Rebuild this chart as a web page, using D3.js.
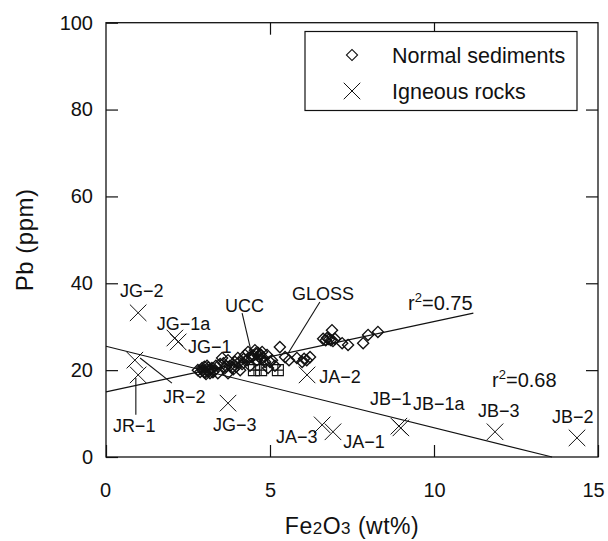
<!DOCTYPE html>
<html><head><meta charset="utf-8">
<script src="https://cdn.jsdelivr.net/npm/d3@7"></script>
<style>body{margin:0;background:#fff}text{font-family:"Liberation Sans",Arial,sans-serif;fill:#111}</style>
</head><body><svg id="c" width="608" height="541"></svg>
<script>
// ---- data ----
const sedFe = [2.80,2.93,2.99,3.08,3.11,3.17,3.23,3.29,3.05,3.35,2.87,3.41,
  3.54,3.48,3.63,3.72,3.72,3.84,3.93,4.02,4.09,4.15,4.24,4.30,4.33,4.39,4.45,4.54,4.60,4.70,4.76,4.79,4.85,4.91,4.94,5.00,5.06,5.15,5.30,5.46,
  5.58,5.82,5.98,6.22,6.62,6.74,6.86,6.98,6.89,7.20,7.38,7.84,7.99,8.29,
  2.95,3.02,3.14,3.20,3.26,3.00,3.12,3.78,3.88,3.97,4.05,4.20,4.36,4.48,4.57,4.66,4.72,4.63,6.70,6.80,6.92,6.04,6.12,3.58,3.66];
const sedPb = [20.0,20.5,19.6,21.0,20.0,19.3,20.5,19.8,19.1,21.0,19.6,19.3,
  22.8,21.4,20.5,22.3,19.3,20.5,21.9,22.8,20.0,21.4,23.5,22.3,24.2,21.0,23.0,24.6,22.3,23.7,24.2,22.8,21.9,23.5,20.5,21.9,22.3,21.0,25.3,23.0,
  22.3,22.8,21.9,23.0,27.2,27.4,26.9,27.2,29.2,26.2,25.8,26.2,28.1,28.8,
  19.9,19.4,19.7,20.2,19.5,20.8,20.6,21.0,20.2,20.8,21.8,22.6,22.9,23.4,23.9,23.2,22.7,24.0,26.9,27.1,26.7,22.6,22.3,21.6,20.9];
const refFe = [4.51,4.73,5.24];
const refPb = [20.0,20.0,20.0];
const igName = ["JG−2","JG−1a","JG−1","JR−2","JR−1","JG−3","JA−3","JA−1","JB−1","JB−1a","JB−3","JB−2","JA−2"];
const igFe = [0.98,2.10,2.20,0.88,0.98,3.72,6.59,6.92,8.93,8.99,11.86,14.36,6.13];
const igPb = [33.2,27.4,26.5,22.3,18.9,12.4,7.4,5.8,7.1,6.7,5.8,4.4,18.9];
// regression lines
const fitIntercept = [15.0, 25.5];
const fitSlope = [1.62, -1.875];
const fitXEnd = [11.2, 13.6];
const fitR2 = ["0.75", "0.68"];
// text annotations (data coords)
const labText = ["JG−2","JG−1a","JG−1","UCC","GLOSS","JA−2","JR−2","JR−1","JG−3","JA−3","JA−1","JB−1","JB−1a","JB−3","JB−2"];
const labFe = [0.43,1.55,2.50,3.63,5.67,6.50,1.74,0.21,3.26,5.18,7.23,8.05,9.36,11.34,13.6];
const labPb = [36.8,29.2,23.9,33.4,36.1,17.0,12.4,5.8,6.0,3.2,2.1,12.0,10.8,9.2,7.8];
const r2Fe = [9.21, 11.77];
const r2Pb = [33.8, 16.1];
// leader lines
const leadFe1 = [4.15,6.52,1.04,0.91];
const leadPb1 = [33.1,35.7,22.8,18.2];
const leadFe2 = [4.45,5.52,2.01,0.91];
const leadPb2 = [23.5,23.5,17.0,9.7];
const xTicks = [0,5,10,15];
const yTicks = [0,20,40,60,80,100];
const legendLabels = ["Normal sediments","Igneous rocks"];

// ---- chart ----
const svg = d3.select("#c");
const L=106,R=598,T=22.7,B=457;
const x = d3.scaleLinear().domain([0,15]).range([L,R]);
const y = d3.scaleLinear().domain([0,100]).range([B,T]);
const ink = "#111";

const gx = svg.append("g").attr("transform",`translate(0,${B})`)
  .call(d3.axisBottom(x).tickValues(xTicks).tickSizeInner(-12).tickSizeOuter(0).tickPadding(26).tickFormat(d3.format("d")));
const gy = svg.append("g").attr("transform",`translate(${L},0)`)
  .call(d3.axisLeft(y).tickValues(yTicks).tickSizeInner(-12).tickSizeOuter(0).tickPadding(13));
const gt = svg.append("g").attr("transform",`translate(0,${T})`)
  .call(d3.axisTop(x).tickValues([5,10]).tickSizeInner(-12).tickSizeOuter(0).tickFormat(""));
const gr = svg.append("g").attr("transform",`translate(${R},0)`)
  .call(d3.axisRight(y).tickValues([20,40,60,80]).tickSizeInner(-12).tickSizeOuter(0).tickFormat(""));
[gx,gy,gt,gr].forEach(g=>{
  g.select(".domain").remove();
  g.selectAll("line").attr("stroke",ink).attr("stroke-width",1.2);
  g.selectAll("text").attr("font-size",20).attr("fill",ink).attr("font-family","Liberation Sans, Arial, sans-serif");
});
gx.selectAll(".tick text").attr("dx",d=>d===15?-5:(d===0?-1:0));
svg.append("rect").attr("x",L).attr("y",T).attr("width",R-L).attr("height",B-T)
  .attr("fill","none").attr("stroke",ink).attr("stroke-width",1.3);

// axis titles
const xt = svg.append("text").attr("x",(L+R)/2).attr("y",534).attr("text-anchor","middle").attr("font-size",23).attr("letter-spacing",0.5);
xt.append("tspan").text("Fe");
xt.append("tspan").attr("font-size",17).text("2");
xt.append("tspan").text("O");
xt.append("tspan").attr("font-size",17).text("3");
xt.append("tspan").text(" (wt%)");
svg.append("text").attr("transform",`translate(33,${(T+B)/2}) rotate(-90)`).attr("text-anchor","middle")
  .attr("font-size",24).attr("letter-spacing",0.5).text("Pb (ppm)");

const plot = svg.append("g");
// regression lines
fitIntercept.forEach((b,i)=>{
  plot.append("line").attr("x1",x(0)).attr("y1",y(b))
    .attr("x2",x(fitXEnd[i])).attr("y2",y(b+fitSlope[i]*fitXEnd[i]))
    .attr("stroke",ink).attr("stroke-width",1.2);
});
// leaders
leadFe1.forEach((v,i)=>{
  plot.append("line").attr("x1",x(v)).attr("y1",y(leadPb1[i])).attr("x2",x(leadFe2[i])).attr("y2",y(leadPb2[i]))
    .attr("stroke",ink).attr("stroke-width",1.1);
});
// sediments diamonds
const diamond = d3.symbol().type(d3.symbolSquare).size(62);
plot.selectAll("path.sed").data(sedFe).join("path").attr("class","sed")
  .attr("d",diamond).attr("transform",(d,i)=>`translate(${x(d)},${y(sedPb[i])}) rotate(45)`)
  .attr("fill","none").attr("stroke",ink).attr("stroke-width",1.35);
// squares with cross
const boxCross = {draw(ctx,size){const s=Math.sqrt(size)/2;ctx.rect(-s,-s,2*s,2*s);ctx.moveTo(-s,0);ctx.lineTo(s,0);ctx.moveTo(0,-s);ctx.lineTo(0,s);}};
plot.selectAll("path.ref").data(refFe).join("path").attr("class","ref")
  .attr("d",d3.symbol().type(boxCross).size(121)).attr("transform",(d,i)=>`translate(${x(d)},${y(refPb[i])})`)
  .attr("fill","none").attr("stroke",ink).attr("stroke-width",1.1);
// igneous crosses
const cross = d3.symbol().type(d3.symbolX).size(180);
plot.selectAll("path.ig").data(igFe).join("path").attr("class","ig")
  .attr("d",cross).attr("transform",(d,i)=>`translate(${x(d)},${y(igPb[i])})`)
  .attr("fill","none").attr("stroke",ink).attr("stroke-width",1);
// labels
plot.selectAll("text.lab").data(labText).join("text").attr("class","lab")
  .attr("x",(d,i)=>x(labFe[i])).attr("y",(d,i)=>y(labPb[i])).attr("font-size",18).text(d=>d);
// r2 labels
fitR2.forEach((r,i)=>{
  const t = plot.append("text").attr("x",x(r2Fe[i])).attr("y",y(r2Pb[i])).attr("font-size",20);
  t.append("tspan").text("r");
  t.append("tspan").attr("font-size",13).attr("dy",-8).text("2");
  t.append("tspan").attr("dy",8).text("="+r);
});

// legend
const lg = svg.append("g");
lg.append("rect").attr("x",305).attr("y",31.5).attr("width",272).attr("height",79)
  .attr("fill","#fff").attr("stroke",ink).attr("stroke-width",1.2);
const legendSym = [diamond, cross];
legendLabels.forEach((s,i)=>{
  const yy = 55 + i*36;
  lg.append("path").attr("d",legendSym[i]).attr("transform",`translate(352,${yy})`+(i===0?" rotate(45)":""))
    .attr("fill","none").attr("stroke",ink).attr("stroke-width",i===0?1.1:1);
  lg.append("text").attr("x",392).attr("y",yy+8).attr("font-size",21.5).text(s);
});
</script></body></html>
